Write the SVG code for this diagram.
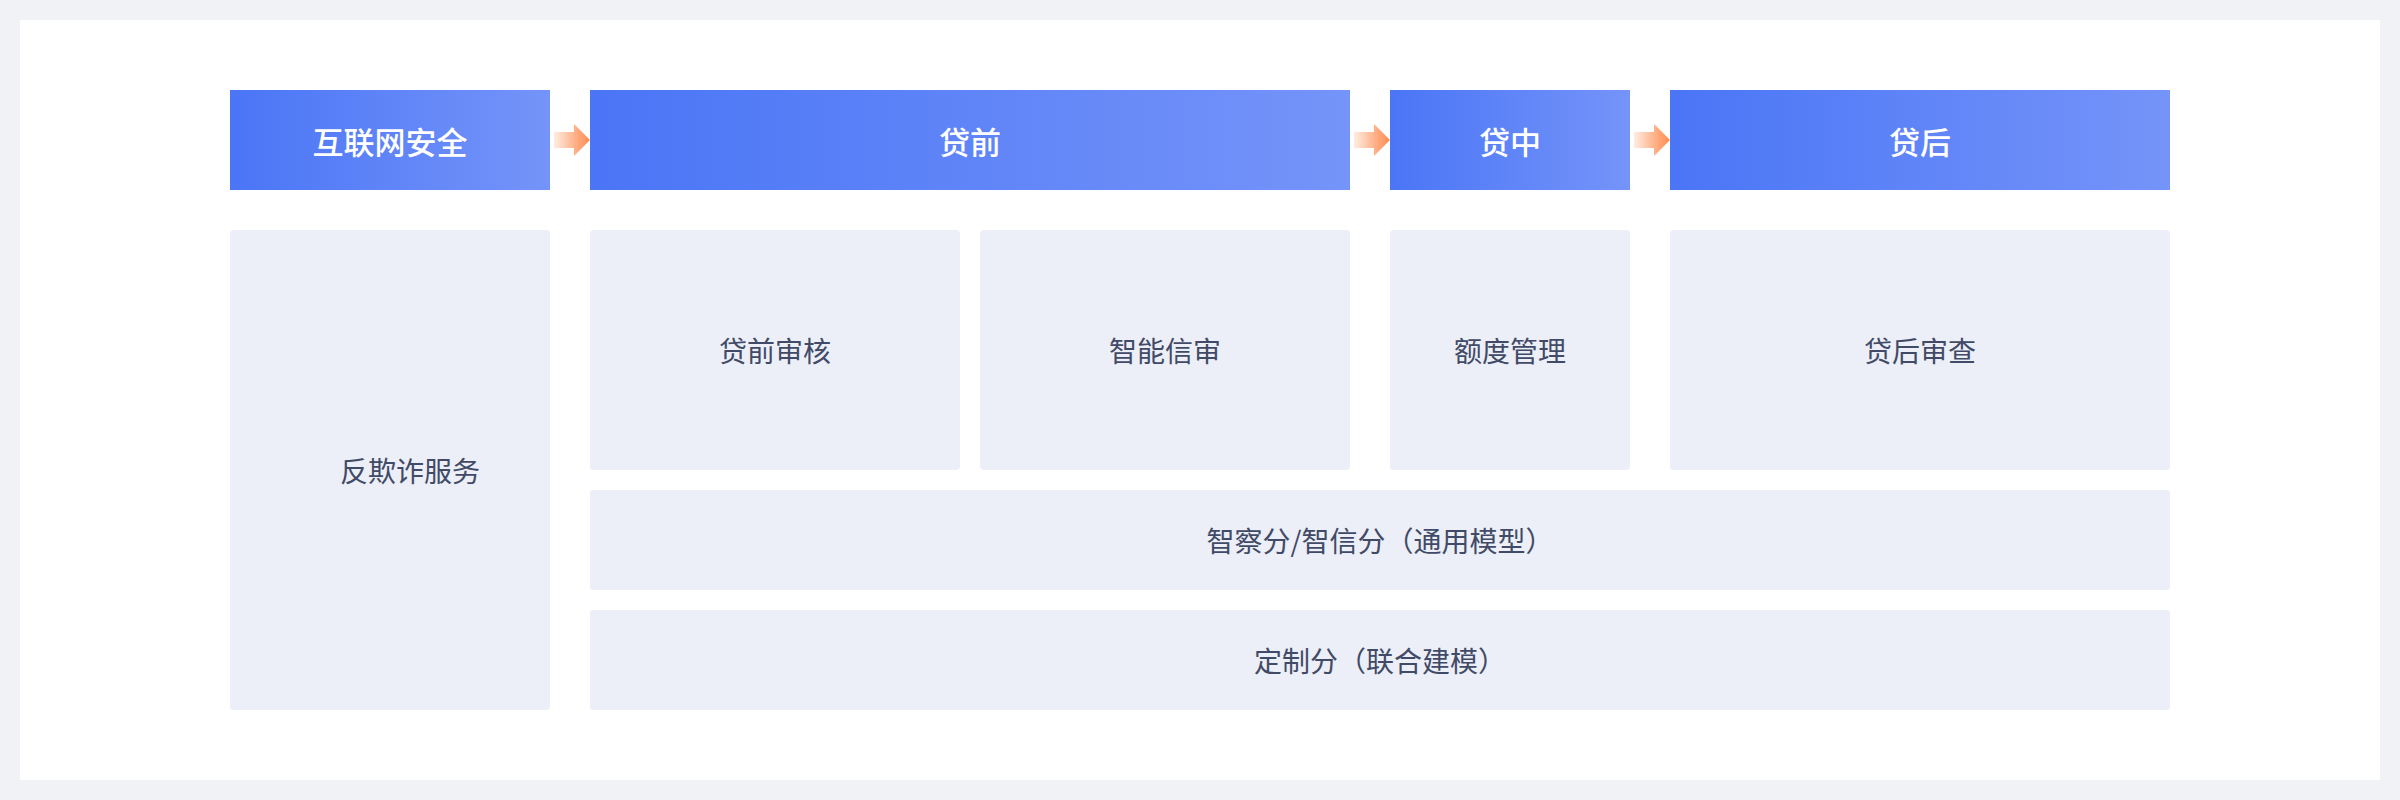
<svg xmlns="http://www.w3.org/2000/svg" width="2400" height="800" viewBox="0 0 2400 800">
  <defs>
    <linearGradient id="hdr" x1="0" y1="0" x2="1" y2="0">
      <stop offset="0" stop-color="#4A75F6"/>
      <stop offset="1" stop-color="#7594F9"/>
    </linearGradient>
    <linearGradient id="arr" x1="0" y1="0" x2="1" y2="0">
      <stop offset="0" stop-color="#FFEDE3"/>
      <stop offset="0.6" stop-color="#FFAF85"/>
      <stop offset="1" stop-color="#FF8A4F"/>
    </linearGradient>
    <path id="arrow" d="M0,-8 H20 V-16 L36,0 L20,16 V8 H0 Z"/>
    <style>
      .hdr { fill: url(#hdr); }
      .box { fill: #ECEFF7; }
      .ht { font-family: "Noto Sans CJK SC", "Noto Sans", sans-serif; font-size: 31px; font-weight: 500; fill: #FFFFFF; text-anchor: middle; dominant-baseline: central; }
      .bt { font-family: "Noto Sans CJK SC", "Noto Sans", sans-serif; font-size: 28px; font-weight: 400; fill: #414A66; text-anchor: middle; dominant-baseline: central; }
      .ar { fill: url(#arr); }
    </style>
  </defs>
  <rect x="0" y="0" width="2400" height="800" fill="#F0F2F6"/>
  <rect x="20" y="20" width="2360" height="760" fill="#FFFFFF"/>

  <g id="h-internet">
    <rect class="hdr" x="230" y="90" width="320" height="100"/>
    <text class="ht" x="390" y="140">互联网安全</text>
  </g>
  <g id="h-pre">
    <rect class="hdr" x="590" y="90" width="760" height="100"/>
    <text class="ht" x="970" y="140">贷前</text>
  </g>
  <g id="h-mid">
    <rect class="hdr" x="1390" y="90" width="240" height="100"/>
    <text class="ht" x="1510" y="140">贷中</text>
  </g>
  <g id="h-post">
    <rect class="hdr" x="1670" y="90" width="500" height="100"/>
    <text class="ht" x="1920" y="140">贷后</text>
  </g>

  <g id="connectors">
    <use href="#arrow" class="ar" transform="translate(554,140)"/>
    <use href="#arrow" class="ar" transform="translate(1354,140)"/>
    <use href="#arrow" class="ar" transform="translate(1634,140)"/>
  </g>

  <g id="antifraud">
    <rect class="box" x="230" y="230" width="320" height="480" rx="4"/>
    <text class="bt" x="410" y="470">反欺诈服务</text>
  </g>
  <g id="pre-audit">
    <rect class="box" x="590" y="230" width="370" height="240" rx="4"/>
    <text class="bt" x="775" y="350">贷前审核</text>
  </g>
  <g id="smart-credit">
    <rect class="box" x="980" y="230" width="370" height="240" rx="4"/>
    <text class="bt" x="1165" y="350">智能信审</text>
  </g>
  <g id="quota">
    <rect class="box" x="1390" y="230" width="240" height="240" rx="4"/>
    <text class="bt" x="1510" y="350">额度管理</text>
  </g>
  <g id="post-review">
    <rect class="box" x="1670" y="230" width="500" height="240" rx="4"/>
    <text class="bt" x="1920" y="350">贷后审查</text>
  </g>
  <g id="general-score">
    <rect class="box" x="590" y="490" width="1580" height="100" rx="4"/>
    <text class="bt" x="1380" y="540">智察分/智信分（通用模型）</text>
  </g>
  <g id="custom-score">
    <rect class="box" x="590" y="610" width="1580" height="100" rx="4"/>
    <text class="bt" x="1380" y="660">定制分（联合建模）</text>
  </g>
</svg>
